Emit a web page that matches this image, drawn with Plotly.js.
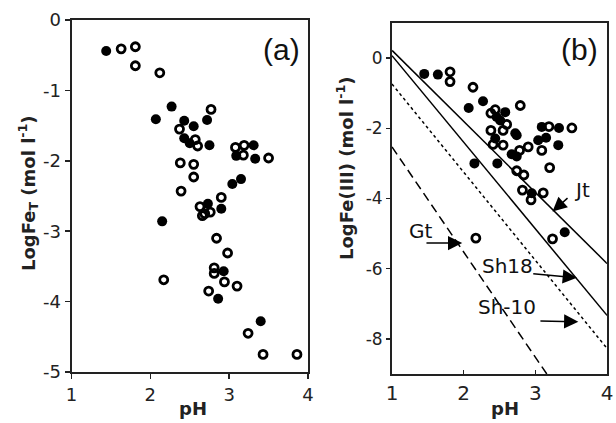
<!DOCTYPE html>
<html><head><meta charset="utf-8">
<script src="https://cdn.plot.ly/plotly-3.0.1.min.js"></script>
<style>html,body{margin:0;padding:0;background:#fff}#c{width:616px;height:423px}</style>
</head><body><div id="c"></div>
<script>
// Panel (a): LogFe_T vs pH
const aFilledX = [1.44, 2.27, 2.07, 2.72, 2.43, 2.55, 2.43, 2.50, 2.75, 3.31, 3.09, 3.33, 3.15, 3.04, 2.73, 2.90, 2.15, 2.93, 2.86, 3.40];
const aFilledY = [-0.44, -1.23, -1.41, -1.42, -1.43, -1.51, -1.68, -1.75, -1.78, -1.78, -1.93, -1.97, -2.26, -2.33, -2.61, -2.68, -2.86, -3.57, -3.96, -4.28];
const aOpenX = [1.63, 1.81, 1.81, 2.12, 2.77, 2.37, 2.57, 2.60, 3.08, 3.19, 3.18, 3.50, 2.38, 2.55, 2.55, 2.39, 2.90, 2.63, 2.76, 2.69, 2.66, 2.84, 2.98, 2.81, 2.81, 2.94, 3.10, 2.17, 2.74, 3.24, 3.43, 3.86];
const aOpenY = [-0.41, -0.38, -0.65, -0.75, -1.27, -1.55, -1.70, -1.79, -1.81, -1.78, -1.92, -1.96, -2.03, -2.05, -2.23, -2.43, -2.52, -2.65, -2.73, -2.75, -2.78, -3.10, -3.31, -3.52, -3.60, -3.72, -3.78, -3.69, -3.85, -4.45, -4.75, -4.75];

// Panel (b): LogFe(III) vs pH
const bFilledX = [1.45, 1.64, 2.27, 2.07, 2.58, 2.46, 2.51, 2.72, 2.74, 3.09, 3.33, 2.44, 3.15, 3.04, 3.32, 2.67, 2.74, 2.15, 2.47, 2.95, 3.41];
const bFilledY = [-0.45, -0.47, -1.23, -1.42, -1.54, -1.68, -1.78, -2.14, -2.20, -1.96, -1.99, -2.29, -2.27, -2.34, -2.48, -2.74, -2.80, -3.00, -3.00, -3.85, -4.96];
const bOpenX = [1.81, 1.81, 2.13, 2.79, 2.44, 2.38, 2.60, 2.38, 2.55, 3.19, 3.51, 2.41, 2.55, 3.09, 2.90, 2.78, 3.20, 2.74, 2.84, 2.82, 3.11, 2.94, 3.24, 2.17];
const bOpenY = [-0.39, -0.67, -0.83, -1.35, -1.47, -1.57, -1.89, -2.06, -2.06, -1.95, -1.99, -2.46, -2.48, -2.63, -2.53, -2.63, -3.12, -3.21, -3.33, -3.76, -3.84, -4.04, -5.15, -5.13];

// Solubility lines
const jtX = [1, 4], jtY = [0.22, -5.85];
const sh18X = [1, 4], sh18Y = [0.07, -7.33];
const sh10X = [1, 4], sh10Y = [-0.74, -8.27];
const gtX = [1, 3.16], gtY = [-2.53, -9.0];

// Labels
const xTicks = [1, 2, 3, 4];
const xTickText = ['1', '2', '3', '4'];
const aYTicks = [0, -1, -2, -3, -4, -5];
const aYTickText = ['0', '-1', '-2', '-3', '-4', '-5'];
const bYTicks = [0, -2, -4, -6, -8];
const bYTickText = ['0', '-2', '-4', '-6', '-8'];
const lineLabels = ['Jt', 'Gt', 'Sh18', 'Sh-10'];
const labelPos = [[3.65, -3.76], [1.40, -4.94], [2.61, -5.93], [2.61, -7.08]];
const arrowHead = [[3.24, -4.37], [1.98, -5.27], [3.58, -6.26], [3.60, -7.51]];
const arrowTail = [[3.47, -3.95], [1.46, -5.27], [2.95, -6.14], [3.05, -7.49]];

const filled = {color: '#000', size: 10, line: {width: 0}};
const open = {symbol: 'circle-open', color: '#000', size: 8, line: {width: 2.8, color: '#000'}};

const traces = [
  {x: aFilledX, y: aFilledY, mode: 'markers', marker: filled, xaxis: 'x', yaxis: 'y'},
  {x: aOpenX, y: aOpenY, mode: 'markers', marker: open, xaxis: 'x', yaxis: 'y'},
  {x: jtX, y: jtY, mode: 'lines', line: {color: '#000', width: 1.5}, xaxis: 'x2', yaxis: 'y2'},
  {x: sh18X, y: sh18Y, mode: 'lines', line: {color: '#000', width: 1.5}, xaxis: 'x2', yaxis: 'y2'},
  {x: sh10X, y: sh10Y, mode: 'lines', line: {color: '#000', width: 1.5, dash: '3px,3px'}, xaxis: 'x2', yaxis: 'y2'},
  {x: gtX, y: gtY, mode: 'lines', line: {color: '#000', width: 1.5, dash: '9px,5px'}, xaxis: 'x2', yaxis: 'y2'},
  {x: bFilledX, y: bFilledY, mode: 'markers', marker: filled, xaxis: 'x2', yaxis: 'y2'},
  {x: bOpenX, y: bOpenY, mode: 'markers', marker: open, xaxis: 'x2', yaxis: 'y2'}
];

const tickFontA = {family: 'DejaVu Sans', size: 18, color: '#222'};
const tickFontBx = {family: 'DejaVu Sans', size: 20, color: '#222'};
const tickFontBy = {family: 'DejaVu Sans', size: 17, color: '#222'};
const titleFont = {family: 'DejaVu Sans', size: 18, color: '#222', weight: 'bold'};

const annotations = [
  {xref: 'paper', yref: 'paper', x: 28/616, y: 1 - 193/423, text: '<b>LogFe<sub>T</sub> (mol l<sup>-1</sup>)</b>', textangle: -90, showarrow: false, font: titleFont, xanchor: 'center', yanchor: 'middle'},
  {xref: 'paper', yref: 'paper', x: 345/616, y: 1 - 168/423, text: '<b>LogFe(III) (mol l<sup>-1</sup>)</b>', textangle: -90, showarrow: false, font: titleFont, xanchor: 'center', yanchor: 'middle'},
  {xref: 'paper', yref: 'paper', x: 193/616, y: 1 - 408/423, text: '<b>pH</b>', showarrow: false, font: titleFont, xanchor: 'center', yanchor: 'middle'},
  {xref: 'paper', yref: 'paper', x: 505/616, y: 1 - 408/423, text: '<b>pH</b>', showarrow: false, font: titleFont, xanchor: 'center', yanchor: 'middle'},
  {xref: 'paper', yref: 'paper', x: 281/616, y: 1 - 49/423, text: '(a)', showarrow: false, font: {family: 'Liberation Sans', size: 30, color: '#111'}, xanchor: 'center', yanchor: 'middle'},
  {xref: 'paper', yref: 'paper', x: 579/616, y: 1 - 50/423, text: '(b)', showarrow: false, font: {family: 'Liberation Sans', size: 30, color: '#111'}, xanchor: 'center', yanchor: 'middle'}
];
lineLabels.forEach((t, i) => {
  annotations.push({xref: 'x2', yref: 'y2', x: labelPos[i][0], y: labelPos[i][1], text: t, showarrow: false,
    font: {family: 'DejaVu Sans', size: 20, color: '#111'}, xanchor: 'center', yanchor: 'middle'});
  annotations.push({xref: 'x2', yref: 'y2', axref: 'x2', ayref: 'y2', x: arrowHead[i][0], y: arrowHead[i][1],
    ax: arrowTail[i][0], ay: arrowTail[i][1], text: '', showarrow: true, arrowhead: 2, arrowsize: 1.9, arrowwidth: 1.5, arrowcolor: '#000'});
});

const axBase = {showline: true, mirror: true, linewidth: 2, linecolor: '#222', showgrid: false, zeroline: false, ticks: 'outside', ticklen: 5, tickwidth: 1.5, tickcolor: '#222', tickmode: 'array'};

const layout = {
  width: 616, height: 423, showlegend: false,
  paper_bgcolor: '#fff', plot_bgcolor: '#fff',
  margin: {l: 0, r: 0, t: 0, b: 0, autoexpand: false},
  xaxis: Object.assign({}, axBase, {domain: [71.5/616, 308/616], range: [1, 4], tickvals: xTicks, ticktext: xTickText, tickfont: tickFontA, anchor: 'y'}),
  yaxis: Object.assign({}, axBase, {domain: [1 - 372/423, 1 - 20/423], range: [-5, 0], tickvals: aYTicks, ticktext: aYTickText, tickfont: tickFontA, anchor: 'x'}),
  xaxis2: Object.assign({}, axBase, {domain: [392/616, 607/616], range: [1, 4], tickvals: xTicks, ticktext: xTickText, tickfont: tickFontBx, anchor: 'y2', ticks: 'inside', ticklen: 4}),
  yaxis2: Object.assign({}, axBase, {domain: [1 - 374/423, 1 - 23/423], range: [-9, 1], tickvals: bYTicks, ticktext: bYTickText, tickfont: tickFontBy, anchor: 'x2', ticklen: 4}),
  annotations: annotations
};

Plotly.newPlot('c', traces, layout, {staticPlot: true, displayModeBar: false});
</script></body></html>
